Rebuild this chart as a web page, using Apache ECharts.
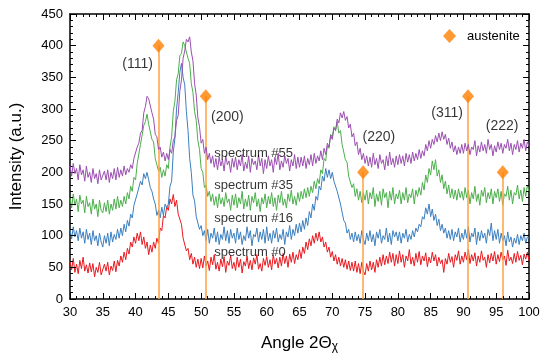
<!DOCTYPE html>
<html><head><meta charset="utf-8">
<script src="https://cdn.jsdelivr.net/npm/echarts@6/dist/echarts.min.js"></script>
<style>html,body{margin:0;padding:0;background:#fff}#c{width:550px;height:360px}</style>
</head><body><div id="c"></div>
<script>
// Sampling grid of the diffraction angle (2Θχ, degrees): 30°..100° in 0.25° steps
const angleStart = 30, angleStep = 0.25;

// Intensities (a.u.); each row covers 5° (20 samples)
const spectrum0 = [
  60,46,64,42,55,40,61,48,66,44,54,41,57,43,56,35,50,42,58,38,
  40,55,44,58,38,52,45,60,43,61,52,68,58,74,62,80,71,90,82,98,
  88,104,92,106,86,98,80,90,70,85,74,90,80,96,88,112,108,132,128,146,
  140,158,150,165,146,156,134,132,118,96,94,76,80,62,72,55,66,50,63,48,
  64,49,68,52,60,45,66,54,70,47,58,44,63,51,67,42,60,53,69,48,
  58,45,66,50,63,41,59,52,68,48,61,46,65,55,70,47,56,44,64,53,
  67,50,62,46,70,55,64,49,66,52,72,56,68,50,71,58,74,56,70,62,
  78,64,82,72,90,78,95,84,100,88,104,92,106,90,98,82,90,74,82,66,
  75,60,70,55,66,52,64,50,62,47,60,45,58,44,60,42,56,40,58,44,
  38,56,44,60,46,58,42,62,50,66,52,70,54,68,56,74,58,72,52,70,
  56,76,58,70,50,68,60,78,55,66,52,72,58,75,54,68,60,73,51,66,
  57,74,60,70,52,66,56,62,42,64,55,72,58,67,50,70,61,76,55,68,
  58,74,62,78,56,70,60,73,52,68,58,76,61,66,50,70,57,72,60,75,
  55,70,59,74,62,68,53,77,60,66,56,72,58,75,61,69,54,71,63,74,
  60];
const spectrum16 = [
  110,95,114,98,108,92,112,96,106,88,110,94,104,86,108,92,100,84,104,90,
  82,100,88,104,84,106,90,102,94,110,96,112,100,118,106,124,115,134,128,148,
  145,166,165,186,180,198,190,200,188,176,170,158,150,132,140,128,145,132,150,144,
  150,178,186,232,254,300,326,358,372,350,338,296,266,222,200,164,155,130,128,110,
  116,100,108,92,110,88,104,96,112,90,106,86,102,94,114,92,108,88,110,96,
  104,88,112,94,106,86,100,92,114,96,108,84,102,98,112,90,106,94,110,88,
  114,92,104,88,108,96,112,90,102,94,110,86,106,98,116,94,110,100,118,104,
  120,106,124,110,128,116,138,128,150,140,162,156,178,172,194,186,206,192,204,190,
  200,186,188,170,172,150,148,124,120,104,110,94,104,90,106,92,102,88,108,94,
  86,104,92,108,90,102,84,106,96,110,88,100,94,112,90,104,86,108,98,106,
  92,106,88,104,96,110,90,102,94,108,98,112,106,118,114,130,126,144,134,150,
  130,142,124,134,116,126,108,118,104,112,96,108,94,110,92,106,98,112,90,104,
  94,110,96,114,90,104,98,112,86,106,92,108,96,104,88,110,100,120,92,108,
  94,110,88,104,92,100,84,106,90,98,82,96,88,102,86,100,92,104,88,98,
  96];
const spectrum35 = [
  160,144,166,148,158,138,164,150,156,136,162,146,152,134,158,142,150,130,156,140,
  136,152,138,156,134,150,140,158,142,162,144,156,146,162,150,168,158,178,170,192,
  188,214,216,244,246,274,280,292,276,276,252,248,222,224,202,208,192,204,194,212,
  206,240,256,296,312,346,356,384,388,406,400,402,380,372,340,326,296,282,250,236,
  206,200,176,180,162,170,154,166,148,162,144,166,150,160,146,168,152,158,140,164,
  148,166,144,160,150,170,142,158,146,164,140,162,152,168,146,158,138,160,150,166,
  144,162,150,168,146,160,140,164,152,170,148,158,144,166,154,172,150,162,148,168,
  154,170,158,174,160,176,162,178,168,186,174,190,182,204,198,222,218,242,238,260,
  256,272,266,280,262,266,244,244,220,216,194,196,176,182,162,174,156,170,152,168,
  156,172,150,168,158,176,146,166,154,170,148,174,160,168,144,170,156,176,150,166,
  158,172,150,168,156,176,152,166,160,174,150,172,162,176,164,184,172,196,184,206,
  196,218,204,220,194,204,184,196,174,186,166,180,160,174,158,172,156,174,160,170,
  156,176,160,172,150,168,158,178,154,166,148,172,162,176,152,168,158,174,150,170,
  160,174,154,170,148,166,162,178,156,172,150,168,164,180,158,172,154,176,162,180,
  170];
const spectrum55 = [
  210,194,214,198,206,188,212,196,204,186,210,192,200,184,206,190,198,182,204,188,
  186,202,188,204,184,200,190,206,188,208,192,204,194,210,196,206,200,212,206,222,
  222,240,246,262,266,294,304,320,316,314,294,284,260,256,236,240,224,232,218,230,
  220,236,230,250,256,282,290,328,346,380,392,410,406,414,390,376,340,322,286,272,
  246,252,230,240,220,230,214,226,208,222,204,224,210,220,202,226,212,218,200,222,
  208,224,204,220,210,228,202,216,206,226,200,222,212,218,204,228,210,222,198,220,
  206,226,210,220,200,224,212,230,204,218,208,226,214,222,202,220,210,228,206,224,
  208,224,210,226,206,222,212,228,210,230,214,226,218,234,220,238,228,246,240,258,
  252,270,266,284,278,294,286,296,282,288,270,276,256,262,242,248,228,238,220,230,
  214,226,210,224,208,230,212,222,206,228,214,220,204,226,210,232,212,222,208,226,
  212,228,214,226,210,230,216,228,214,232,218,230,220,236,222,234,226,244,234,250,
  238,252,244,258,248,262,250,264,252,260,244,254,238,248,232,242,228,240,230,244,
  230,246,234,244,228,240,236,250,226,242,232,248,234,244,230,252,236,244,226,242,
  232,248,236,246,230,244,238,252,234,246,228,244,236,250,232,246,238,252,234,248,
  242];

const spectrumNames = ['spectrum #0', 'spectrum #16', 'spectrum #35', 'spectrum #55'];
const spectrumColors = ['#e8191f', '#3b7fc0', '#4cae4c', '#9a4fb0'];

// Austenite reference reflections
const austeniteAngles = [43.5, 50.7, 74.7, 90.7, 96.0];
const austeniteMarks = [400, 320, 200, 320, 200];
const hklLabels = ['(111)', '(200)', '(220)', '(311)', '(222)'];
const hklLabelAngles = [40.3, 54.0, 77.1, 87.5, 95.9];
const hklLabelIntensity = [371, 287, 256, 294, 273];

// Spectrum name annotations (data coordinates of their left edge)
const spectrumLabelAngle = 52.0;
const spectrumLabelIntensity = [74, 127, 180, 230];

// Axes: major tick step, minor tick step
const xMin = 30, xMax = 100, xInterval = 5, xMinorStep = 1;
const yMin = 0, yMax = 450, yInterval = 50, yMinorStep = 10;

const FONT = 'Liberation Sans, Arial, Helvetica, sans-serif';
const allSpectra = [spectrum0, spectrum16, spectrum35, spectrum55];

const GRID = { left: 68, right: 21, top: 14, bottom: 61 };
const W = 550, H = 360;
// data units per pixel (used only to give the inward frame ticks a pixel length)
const xPerPx = (xMax - xMin) / (W - GRID.left - GRID.right);
const yPerPx = (yMax - yMin) / (H - GRID.top - GRID.bottom);

const toPairs = arr => arr.map((v, i) => [angleStart + i * angleStep, v]);

const series = allSpectra.map((arr, k) => ({
  type: 'line',
  name: spectrumNames[k],
  data: toPairs(arr),
  showSymbol: false,
  symbol: 'none',
  lineStyle: { color: spectrumColors[k], width: 1 },
  itemStyle: { color: spectrumColors[k] },
  z: 2 + k,
  silent: true,
  animation: false
}));

// reference lines for the austenite reflections
const markLines = austeniteAngles.map((a, i) => [
  { coord: [a, yMin], lineStyle: { color: '#ffa040', width: 1.5, type: 'solid' } },
  { coord: [a, austeniteMarks[i]] }
]);

// inward frame ticks on all four sides
const tickStyle = { color: '#000', width: 1, type: 'solid' };
for (let v = xMin; v <= xMax + 1e-9; v += xMinorStep) {
  const len = (Math.abs(v % xInterval) < 1e-9 ? 6 : 3) * yPerPx;
  markLines.push([{ coord: [v, yMin], lineStyle: tickStyle }, { coord: [v, yMin + len] }]);
  markLines.push([{ coord: [v, yMax], lineStyle: tickStyle }, { coord: [v, yMax - len] }]);
}
for (let v = yMin; v <= yMax + 1e-9; v += yMinorStep) {
  const len = (Math.abs(v % yInterval) < 1e-9 ? 6 : 3) * xPerPx;
  markLines.push([{ coord: [xMin, v], lineStyle: tickStyle }, { coord: [xMin + len, v] }]);
  markLines.push([{ coord: [xMax, v], lineStyle: tickStyle }, { coord: [xMax - len, v] }]);
}

series.push({
  type: 'scatter',
  name: 'austenite',
  data: austeniteAngles.map((a, i) => [a, austeniteMarks[i]]),
  symbol: 'diamond',
  symbolSize: [12, 14],
  itemStyle: { color: '#ff7f00' },
  z: 20,
  markLine: {
    silent: true,
    symbol: ['none', 'none'],
    label: { show: false },
    emphasis: { disabled: true },
    lineStyle: { color: '#ffa040', width: 1.5, type: 'solid' },
    data: markLines,
    animation: false
  },
  animation: false
});

series.push({
  type: 'scatter',
  name: 'hkl',
  data: hklLabels.map((t, i) => ({ value: [hklLabelAngles[i], hklLabelIntensity[i]], label: { formatter: t } })),
  symbolSize: 0,
  label: { show: true, position: 'inside', color: '#000', fontSize: 14, fontFamily: FONT },
  z: 30, silent: true, animation: false
});

series.push({
  type: 'scatter',
  name: 'spectrumLabels',
  data: spectrumNames.map((t, i) => ({ value: [spectrumLabelAngle, spectrumLabelIntensity[i]], label: { formatter: t } })),
  symbolSize: 0,
  label: { show: true, position: 'right', distance: 0, color: '#000', fontSize: 13, fontFamily: FONT },
  z: 30, silent: true, animation: false
});

const lineStyleAxis = { color: '#000', width: 1.5 };

const option = {
  animation: false,
  grid: GRID,
  legend: {
    data: [{ name: 'austenite', icon: 'diamond' }],
    left: 438, top: 24,
    itemWidth: 13, itemHeight: 14,
    itemGap: 5,
    textStyle: { color: '#000', fontSize: 13, fontFamily: FONT, padding: [0, 0, 0, 6] },
    selectedMode: false
  },
  xAxis: [
    {
      type: 'value', min: xMin, max: xMax, interval: xInterval,
      axisLine: { show: true, lineStyle: lineStyleAxis },
      axisTick: { show: false },
      splitLine: { show: false },
      axisLabel: { color: '#000', fontSize: 13, fontFamily: FONT, margin: 7 },
      name: '{a|Angle 2Θ}{s|χ}', nameLocation: 'middle', nameGap: 34,
      nameTextStyle: {
        rich: {
          a: { fontSize: 17, color: '#000', fontFamily: FONT },
          s: { fontSize: 12, color: '#000', fontFamily: FONT, padding: [8, 0, 0, 0] }
        }
      }
    },
    {
      type: 'value', position: 'top', min: xMin, max: xMax, interval: xInterval,
      axisLine: { show: true, onZero: false, lineStyle: lineStyleAxis },
      axisTick: { show: false },
      splitLine: { show: false },
      axisLabel: { show: false }
    }
  ],
  yAxis: [
    {
      type: 'value', min: yMin, max: yMax, interval: yInterval,
      axisLine: { show: true, lineStyle: lineStyleAxis },
      axisTick: { show: false },
      splitLine: { show: false },
      axisLabel: { color: '#000', fontSize: 13, fontFamily: FONT, margin: 7 },
      name: 'Intensity (a.u.)', nameLocation: 'middle', nameGap: 45,
      nameTextStyle: { fontSize: 17, color: '#000', fontFamily: FONT }
    },
    {
      type: 'value', position: 'right', min: yMin, max: yMax, interval: yInterval,
      axisLine: { show: true, lineStyle: lineStyleAxis },
      axisTick: { show: false },
      splitLine: { show: false },
      axisLabel: { show: false }
    }
  ],
  series: series
};

const chart = echarts.init(document.getElementById('c'));
chart.setOption(option);
</script></body></html>
